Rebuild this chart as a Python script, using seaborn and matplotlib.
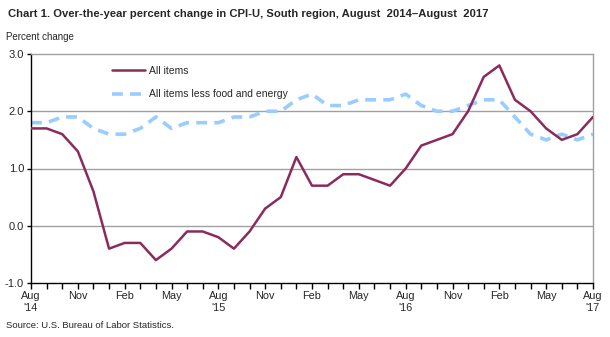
import matplotlib
matplotlib.use("Agg")
import matplotlib.pyplot as plt
import seaborn as sns
import numpy as np
import pandas as pd

months = ["Aug '14","Sep","Oct","Nov","Dec","Jan '15","Feb","Mar","Apr","May","Jun","Jul",
          "Aug '15","Sep","Oct","Nov","Dec","Jan '16","Feb","Mar","Apr","May","Jun","Jul",
          "Aug '16","Sep","Oct","Nov","Dec","Jan '17","Feb","Mar","Apr","May","Jun","Jul","Aug '17"]
all_items = [1.7, 1.7, 1.6, 1.3, 0.6, -0.4, -0.3, -0.3, -0.6, -0.4, -0.1, -0.1,
             -0.2, -0.4, -0.1, 0.3, 0.5, 1.2, 0.7, 0.7, 0.9, 0.9, 0.8, 0.7,
             1.0, 1.4, 1.5, 1.6, 2.0, 2.6, 2.8, 2.2, 2.0, 1.7, 1.5, 1.6, 1.9]
core = [1.8, 1.8, 1.9, 1.9, 1.7, 1.6, 1.6, 1.7, 1.9, 1.7, 1.8, 1.8,
        1.8, 1.9, 1.9, 2.0, 2.0, 2.2, 2.3, 2.1, 2.1, 2.2, 2.2, 2.2,
        2.3, 2.1, 2.0, 2.0, 2.1, 2.2, 2.2, 1.9, 1.6, 1.5, 1.6, 1.5, 1.6]
tick_labels = ["Aug\n'14", "Nov", "Feb", "May", "Aug\n'15", "Nov", "Feb", "May",
               "Aug\n'16", "Nov", "Feb", "May", "Aug\n'17"]
y_ticks = [-1.0, 0.0, 1.0, 2.0, 3.0]

sns.set_style("white")
plt.rcParams['font.family'] = ['Liberation Sans', 'DejaVu Sans']

fig = plt.figure(figsize=(6.1, 3.37), dpi=100)
ax = fig.add_axes([31/610, 1 - 283/337, (593-31)/610, (283-54)/337])

x = np.arange(len(months))
df = pd.DataFrame({"x": x, "All items": all_items, "All items less food and energy": core})

sns.lineplot(data=df, x="x", y="All items", ax=ax, color="#8B2B5C", linewidth=1.8,
             label="All items", zorder=3)
sns.lineplot(data=df, x="x", y="All items less food and energy", ax=ax, color="#99CCFF",
             linewidth=2.6, linestyle=(0, (3, 2)), label="All items less food and energy", zorder=2)

ax.set_xlim(0, len(months) - 1)
ax.set_ylim(-1.0, 3.0)
ax.set_yticks(y_ticks)
ax.set_yticklabels([f"{v:.1f}" for v in y_ticks], fontsize=8)
ax.set_xticks(x, minor=True)
ax.set_xticks(x[::3])
ax.set_xticklabels(tick_labels, fontsize=7.8, linespacing=1.15)
ax.set_xlabel("")
ax.set_ylabel("")

for v in [0.0, 1.0, 2.0]:
    ax.axhline(v, color="#A0A0A0", linewidth=1.0, zorder=1)

for s in ["top", "right"]:
    ax.spines[s].set_visible(True)
    ax.spines[s].set_color("#A0A0A0")
    ax.spines[s].set_linewidth(1.0)
for s in ["left", "bottom"]:
    ax.spines[s].set_color("black")
    ax.spines[s].set_linewidth(1.0)

ax.tick_params(axis="x", which="both", direction="out", length=4, width=1, color="black", bottom=True, pad=2)
ax.tick_params(axis="y", direction="out", length=3, width=1, color="black", left=True, pad=2)

leg = ax.legend(loc="upper left", bbox_to_anchor=(0.127, 0.99), frameon=False, fontsize=7.5,
                handlelength=3.2, labelspacing=1.3, handletextpad=0.4)

fig.text(8/610, 1 - 14/337, "Chart 1. Over-the-year percent change in CPI-U, South region, August  2014\u2013August  2017",
         fontsize=8.1, fontweight="bold", va="center", ha="left")
fig.text(6/610, 1 - 37/337, "Percent change", fontsize=7, va="center", ha="left")
fig.text(6/610, 1 - 325/337, "Source: U.S. Bureau of Labor Statistics.", fontsize=6.8, va="center", ha="left")

fig.savefig("out.png", dpi=100)
